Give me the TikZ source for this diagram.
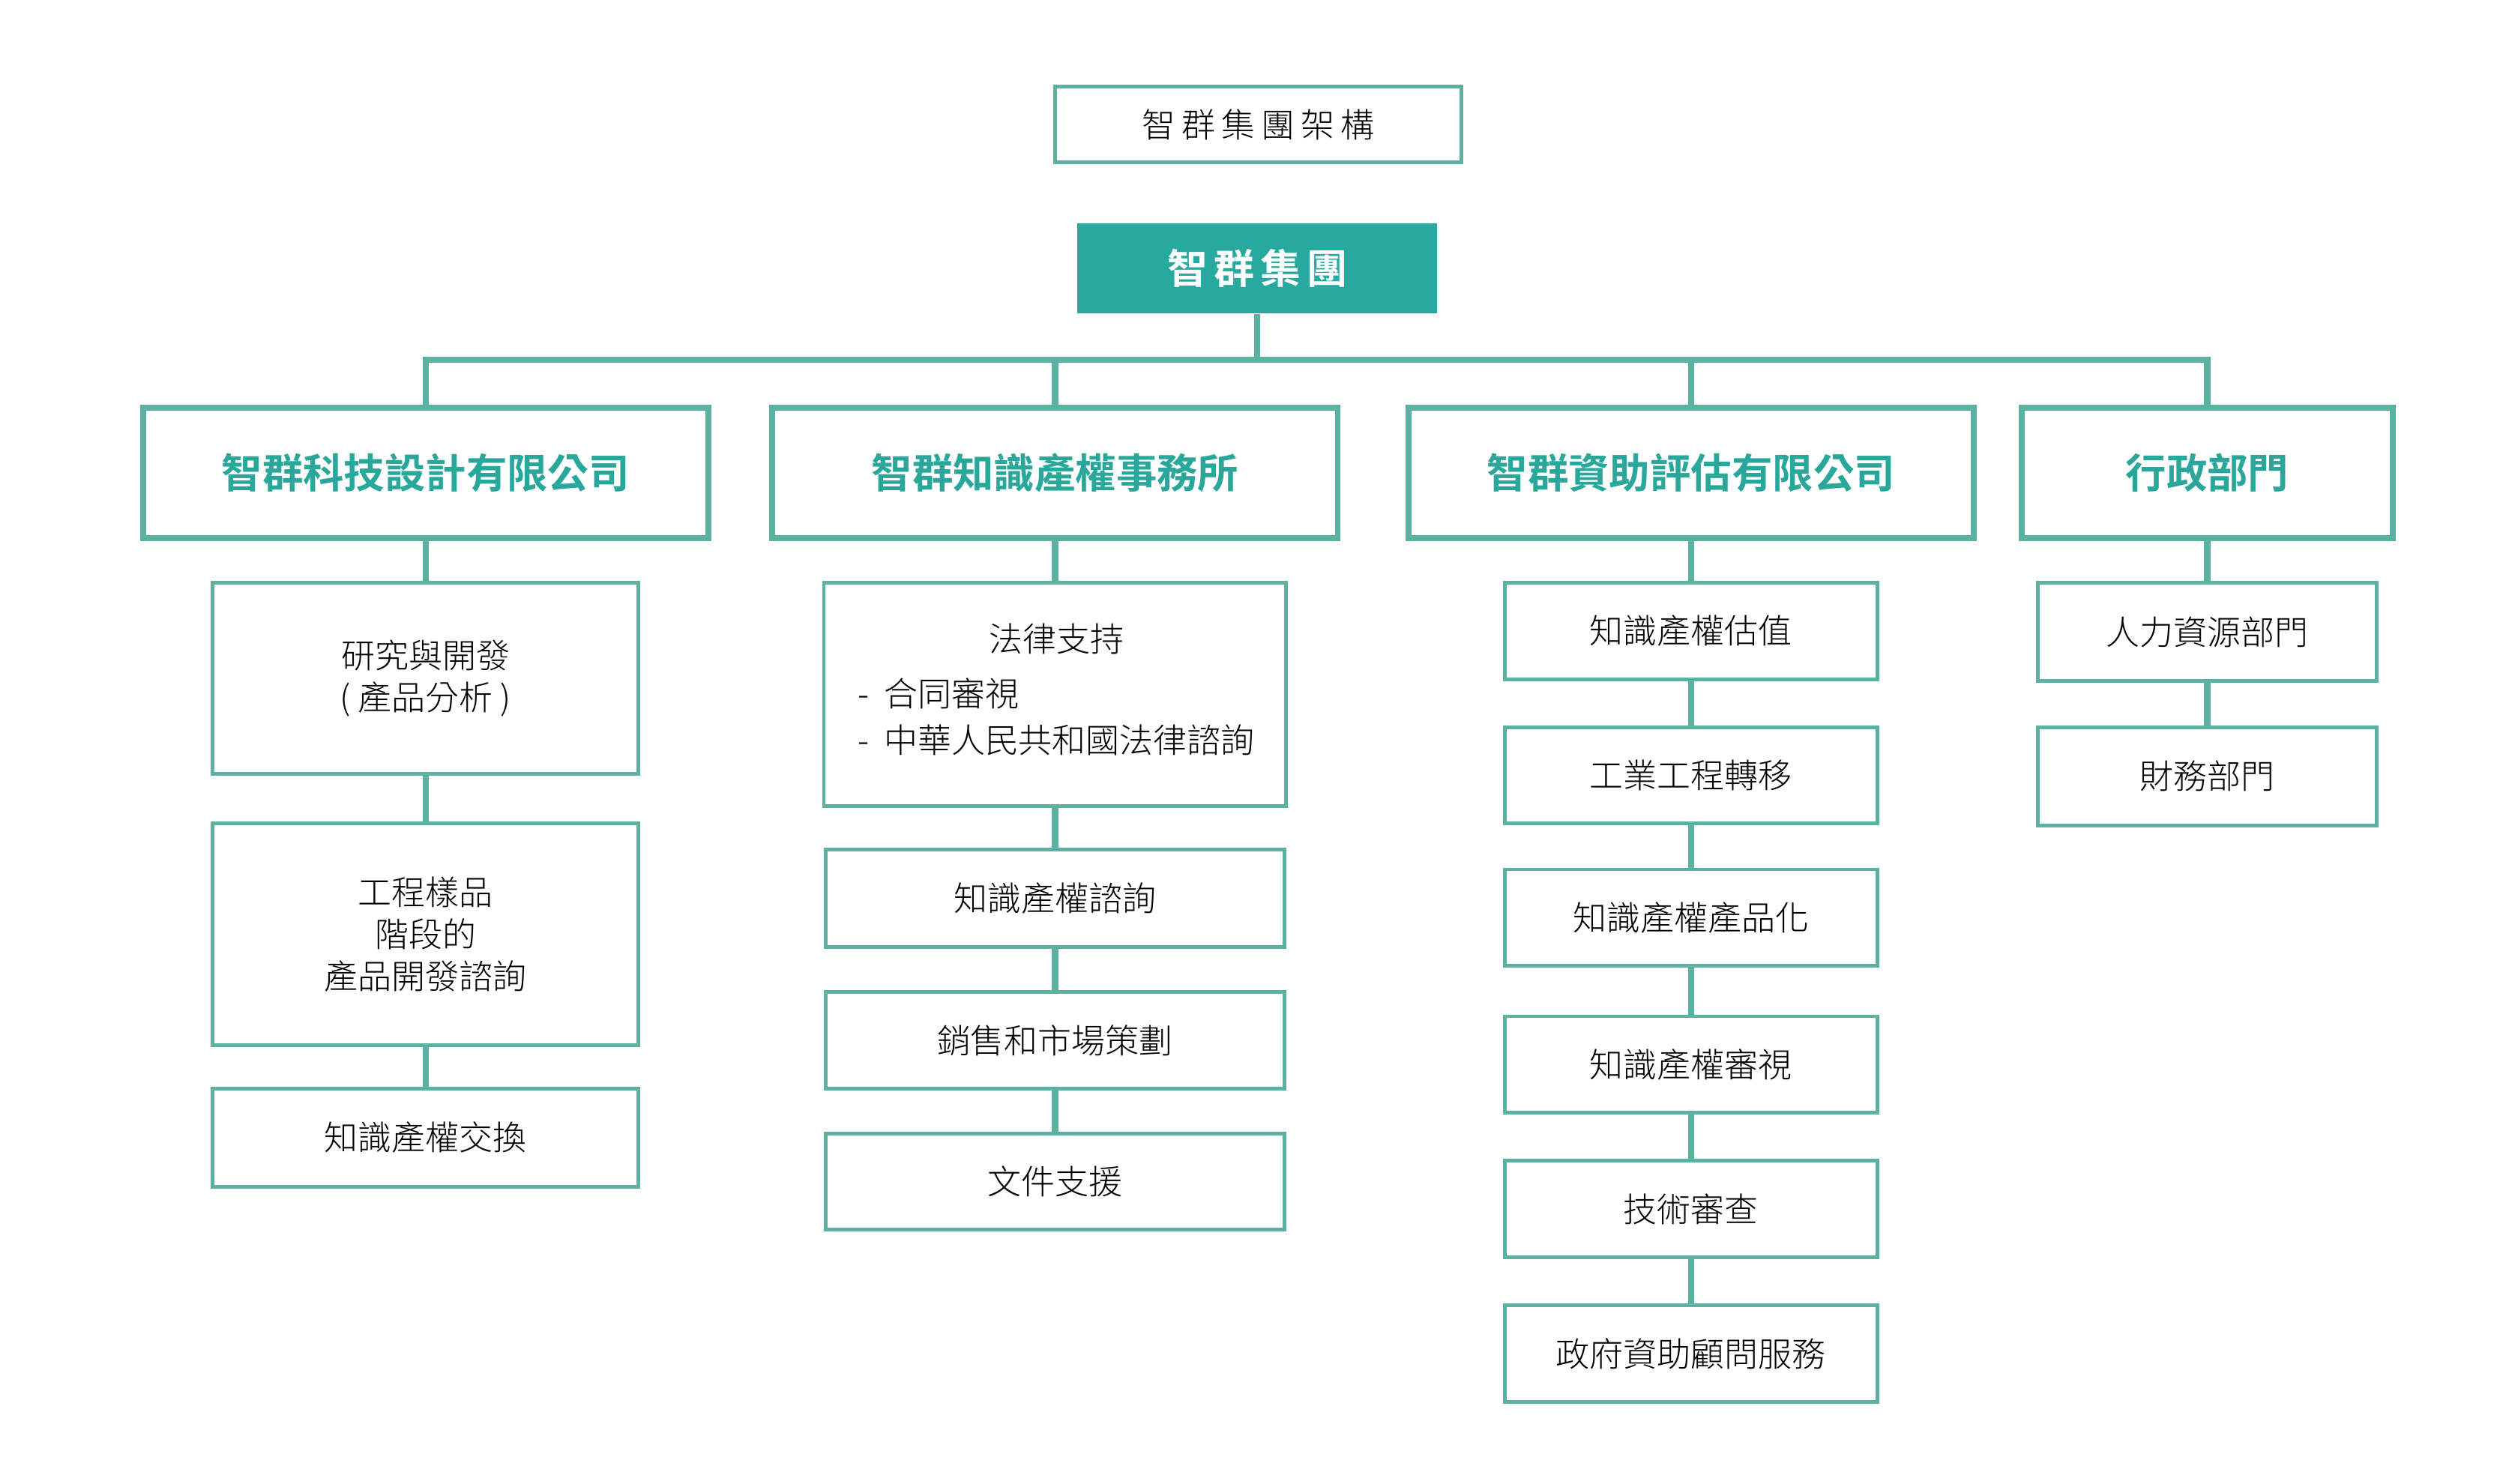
\documentclass[tikz,border=0pt]{standalone}
\usepackage{fontspec}
\setmainfont{Noto Sans CJK TC Light}[BoldFont={Noto Sans CJK TC Bold}]
\newfontfamily\titlefont[LetterSpace=18]{Noto Sans CJK TC Light}
\newfontfamily\topfont[LetterSpace=15]{Noto Sans CJK TC Bold}
\newfontfamily\headfont{Noto Sans CJK TC Bold}
\definecolor{tline}{RGB}{91,178,161}
\definecolor{tfill}{RGB}{38,170,159}
\definecolor{thead}{RGB}{42,167,155}
\tikzset{
  leaf/.style={draw=tline, line width=1.15pt, fill=white, inner sep=0pt,
    font=\fontsize{10.5}{13}\selectfont, align=center, text=black},
  head/.style={draw=tline, line width=1.85pt, inner sep=0pt,
    font=\headfont\fontsize{12.7}{15}\selectfont, text=thead,
    minimum height=40.5pt},
  txt/.style={inner sep=0pt, font=\fontsize{10.5}{13}\selectfont, text=black},
  conn/.style={draw=tline, line width=1.9pt, line join=miter},
}
\begin{document}
\begin{tikzpicture}[x=0.5pt,y=-0.5pt]
\useasboundingbox (0,0) rectangle (1568,924.28);
% title
\node[draw=tline, line width=1.1pt, inner sep=0pt, minimum width=126.5pt, minimum height=23.5pt,
  font=\titlefont\fontsize{10.5}{12}\selectfont] (title) at (783.5,77.5) {智群集團架構};
% top
\node[fill=tfill, inner sep=0pt, minimum width=112pt, minimum height=28pt, text=white,
  font=\topfont\fontsize{12.6}{14}\selectfont] (top) at (783,167) {智群集團};
% level 2
\node[head, minimum width=176pt] (A) at (265,294.5) {智群科技設計有限公司};
\node[head, minimum width=176pt] (B) at (657,294.5) {智群知識產權事務所};
\node[head, minimum width=176pt] (C) at (1053,294.5) {智群資助評估有限公司};
\node[head, minimum width=115.5pt] (D) at (1374.5,294.5) {行政部門};
\coordinate (bus) at (783,224);
\draw[conn] (top.south) -- (top.south |- bus);
\draw[conn] (A.north) -- (A.north |- bus) -- (D.north |- bus) -- (D.north);
\draw[conn] (B.north) -- (B.north |- bus);
\draw[conn] (C.north) -- (C.north |- bus);
% column A
\node[leaf, minimum width=132.5pt, minimum height=59.5pt] (A1) at (265,422.5) {研究與開發\\( 產品分析 )};
\node[leaf, minimum width=132.5pt, minimum height=69pt] (A2) at (265,582) {工程樣品\\階段的\\產品開發諮詢};
\node[leaf, minimum width=132.5pt, minimum height=30.5pt] (A3) at (265,708.5) {知識產權交換};
\draw[conn] (A.south) -- (A1.north);
\draw[conn] (A1.south) -- (A2.north);
\draw[conn] (A2.south) -- (A3.north);
% column B
\node[leaf, minimum width=144pt, minimum height=69.5pt] (B1) at (657,432.5) {};
\node[txt] (B1t) at (658,398) {法律支持};
\node[txt, anchor=west] (B1a) at (534,432) {-\hspace{4.5pt}合同審視};
\node[txt, anchor=west] (B1b) at (534,461) {-\hspace{4.5pt}中華人民共和國法律諮詢};
\node[leaf, minimum width=143pt, minimum height=30.5pt] (B2) at (657,559.5) {知識產權諮詢};
\node[leaf, minimum width=143pt, minimum height=30pt] (B3) at (657,648) {銷售和市場策劃};
\node[leaf, minimum width=143pt, minimum height=30pt] (B4) at (657,736) {文件支援};
\draw[conn] (B.south) -- (B1.north);
\draw[conn] (B1.south) -- (B2.north);
\draw[conn] (B2.south) -- (B3.north);
\draw[conn] (B3.south) -- (B4.north);
% column C
\node[leaf, minimum width=116pt, minimum height=30pt] (C1) at (1053,393) {知識產權估值};
\node[leaf, minimum width=116pt, minimum height=30pt] (C2) at (1053,483) {工業工程轉移};
\node[leaf, minimum width=116pt, minimum height=30pt] (C3) at (1053,571.5) {知識產權產品化};
\node[leaf, minimum width=116pt, minimum height=30pt] (C4) at (1053,663) {知識產權審視};
\node[leaf, minimum width=116pt, minimum height=30pt] (C5) at (1053,753) {技術審查};
\node[leaf, minimum width=116pt, minimum height=30pt] (C6) at (1053,843) {政府資助顧問服務};
\draw[conn] (C.south) -- (C1.north);
\draw[conn] (C1.south) -- (C2.north);
\draw[conn] (C2.south) -- (C3.north);
\draw[conn] (C3.south) -- (C4.north);
\draw[conn] (C4.south) -- (C5.north);
\draw[conn] (C5.south) -- (C6.north);
% column D
\node[leaf, minimum width=105.5pt, minimum height=30.5pt] (D1) at (1374.5,393.5) {人力資源部門};
\node[leaf, minimum width=105.5pt, minimum height=30.5pt] (D2) at (1374.5,483.5) {財務部門};
\draw[conn] (D.south) -- (D1.north);
\draw[conn] (D1.south) -- (D2.north);
\end{tikzpicture}
\end{document}
